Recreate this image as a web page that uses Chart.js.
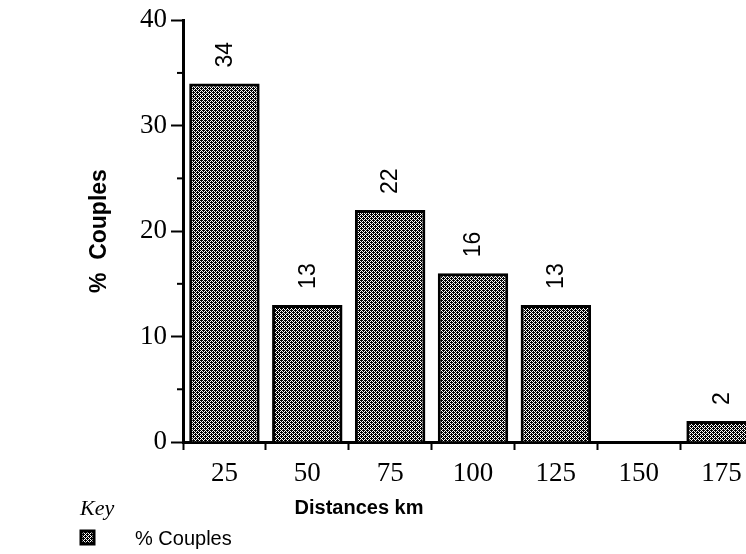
<!DOCTYPE html>
<html>
<head>
<meta charset="utf-8">
<script src="https://cdn.jsdelivr.net/npm/chart.js@4/dist/chart.umd.min.js"></script>
<style>
  html, body { margin: 0; padding: 0; background: #fff; overflow: hidden; }
  #wrap { position: relative; width: 790px; height: 554px; }
</style>
</head>
<body>
<div id="wrap"><canvas id="chart" width="790" height="554"></canvas></div>
<script>
// data
const categories = ['25', '50', '75', '100', '125', '150', '175'];
const couplesPct = [34, 13, 22, 16, 13, 0, 2];
const yMin = 0;
const yMax = 40;
const yStep = 10;
const yMinorStep = 5;
const seriesName = '% Couples';

// dotted grey fill like the scanned hatch
function makeDotPattern() {
    const tile = document.createElement('canvas');
    tile.width = 4;
    tile.height = 4;
    const t = tile.getContext('2d');
    t.fillStyle = '#fff';
    t.fillRect(0, 0, 4, 4);
    t.fillStyle = '#000';
    for (let y = 0; y < 4; y++) {
        for (let x = 0; x < 4; x++) {
            if ((x + y) % 2 === 0) t.fillRect(x, y, 1, 1);
        }
    }
    // a few extra dots to darken it a little
    t.fillRect(1, 0, 1, 1);
    t.fillRect(3, 2, 1, 1);
    return t.createPattern(tile, 'repeat');
}

const ctx = document.getElementById('chart').getContext('2d');
const dots = makeDotPattern();

// value labels, rotated, above each bar
const barLabels = {
    id: 'barLabels',
    afterDatasetsDraw(chart) {
        const c = chart.ctx;
        const meta = chart.getDatasetMeta(0);
        c.save();
        c.fillStyle = '#000';
        c.font = '23px "Liberation Sans", Arial, sans-serif';
        c.textAlign = 'left';
        c.textBaseline = 'middle';
        meta.data.forEach((bar, i) => {
            const v = couplesPct[i];
            if (!v) return;
            c.save();
            c.translate(bar.x + 1, bar.y - 16);
            c.rotate(-Math.PI / 2);
            c.fillText(String(v), 0, 0);
            c.restore();
        });
        c.restore();
    }
};

// short minor ticks on the y axis, titles and the key
const extras = {
    id: 'extras',
    afterDraw(chart) {
        const c = chart.ctx;
        const y = chart.scales.y;
        c.save();
        c.strokeStyle = '#000';
        c.lineWidth = 2;
        for (let v = yMin + yMinorStep; v < yMax; v += yStep) {
            const py = y.getPixelForValue(v);
            c.beginPath();
            c.moveTo(y.right - 6, py);
            c.lineTo(y.right, py);
            c.stroke();
        }

        c.fillStyle = '#000';
        // y title
        c.save();
        c.translate(100, (chart.chartArea.top + chart.chartArea.bottom) / 2);
        c.rotate(-Math.PI / 2);
        c.font = 'bold 23px "Liberation Sans", Arial, sans-serif';
        c.textAlign = 'center';
        c.textBaseline = 'middle';
        c.fillText('%  Couples', 0, 0);
        c.restore();

        // x title
        c.font = 'bold 20px "Liberation Sans", Arial, sans-serif';
        c.textAlign = 'center';
        c.textBaseline = 'middle';
        c.fillText('Distances km', 359, 508);

        // key
        c.font = 'italic 22px "Liberation Serif", "Times New Roman", serif';
        c.textAlign = 'left';
        c.fillText('Key', 80, 509);
        c.fillStyle = dots;
        c.fillRect(81, 531, 13, 13);
        c.lineWidth = 3;
        c.strokeRect(81, 531, 13, 13);
        c.fillStyle = '#000';
        c.font = '20px "Liberation Sans", Arial, sans-serif';
        c.fillText(seriesName, 135, 539);
        c.restore();
    }
};

const chart = new Chart(ctx, {
    type: 'bar',
    data: {
        labels: categories,
        datasets: [{
            label: seriesName,
            data: couplesPct,
            backgroundColor: dots,
            borderColor: '#000',
            borderWidth: 3,
            barPercentage: 0.85,
            categoryPercentage: 1
        }]
    },
    options: {
        responsive: false,
        animation: false,
        layout: { padding: { top: 20, right: 27, left: 0, bottom: 0 } },
        plugins: {
            legend: { display: false },
            tooltip: { enabled: false }
        },
        scales: {
            x: {
                offset: true,
                grid: {
                    offset: true,
                    drawOnChartArea: false,
                    tickLength: 8,
                    tickWidth: 2,
                    tickColor: '#000'
                },
                border: { color: '#000', width: 3 },
                ticks: {
                    color: '#000',
                    padding: 8,
                    maxRotation: 0,
                    font: { family: '"Liberation Serif", "Times New Roman", serif', size: 27 }
                },
                afterFit(scale) { scale.height = 112; }
            },
            y: {
                min: yMin,
                max: yMax,
                ticks: {
                    stepSize: yStep,
                    color: '#000',
                    padding: 4,
                    font: { family: '"Liberation Serif", "Times New Roman", serif', size: 27 }
                },
                grid: {
                    drawOnChartArea: false,
                    tickLength: 12,
                    tickWidth: 2,
                    tickColor: '#000'
                },
                border: { color: '#000', width: 3 },
                afterFit(scale) { scale.width = 183; }
            }
        }
    },
    plugins: [barLabels, extras]
});
</script>
</body>
</html>
